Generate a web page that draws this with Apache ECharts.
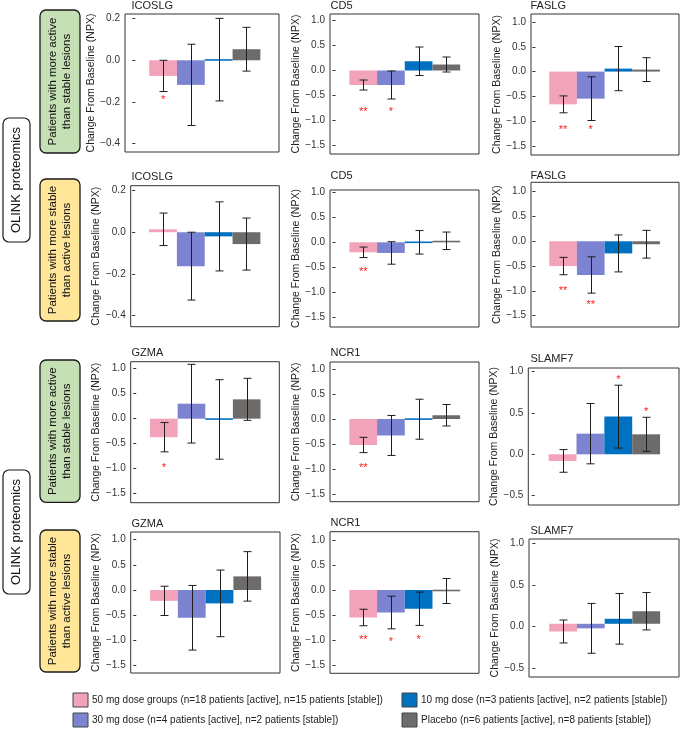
<!DOCTYPE html>
<html><head><meta charset="utf-8">
<script src="https://cdn.jsdelivr.net/npm/echarts@6/dist/echarts.min.js"></script>
<style>html,body{margin:0;padding:0;background:#fff}#c{width:681px;height:734px}</style>
</head><body><div id="c"></div>
<script>
// ---------------- DATA ----------------
const groups = ['50 mg dose groups', '30 mg dose', '10 mg dose', 'Placebo'];
const legendLabels = [
  '50 mg dose groups (n=18 patients [active], n=15 patients [stable])',
  '30 mg dose (n=4 patients [active], n=2 patients [stable])',
  '10 mg dose (n=3 patients [active], n=2 patients [stable])',
  'Placebo (n=6 patients [active], n=8 patients [stable])'
];
const proteinTitles = ['ICOSLG','CD5','FASLG','ICOSLG','CD5','FASLG','GZMA','NCR1','SLAMF7','GZMA','NCR1','SLAMF7'];
const yAxisName = 'Change From Baseline (NPX)';
const sideLabel = 'OLINK proteomics';
const activeLabel = 'Patients with more active\nthan stable lesions';
const stableLabel = 'Patients with more stable\nthan active lesions';

// tick labels
const ticksICOSLG = [-0.4, -0.2, 0, 0.2];
const ticksWide = [-1.5, -1, -0.5, 0, 0.5, 1];
const ticksSLAMF7 = [-0.5, 0, 0.5, 1];

// means (order: 50 mg, 30 mg, 10 mg, placebo) and error half-widths
const meanICOSLG_A = [-0.075, -0.118, 0.003, 0.053];
const errICOSLG_A  = [0.075, 0.195, 0.198, 0.105];
const meanCD5_A    = [-0.29, -0.29, 0.185, 0.12];
const errCD5_A     = [0.10, 0.28, 0.285, 0.15];
const meanFASLG_A  = [-0.66, -0.545, 0.06, 0.04];
const errFASLG_A   = [0.17, 0.44, 0.445, 0.24];
const meanICOSLG_S = [0.014, -0.163, -0.02, -0.057];
const errICOSLG_S  = [0.078, 0.163, 0.166, 0.125];
const meanCD5_S    = [-0.20, -0.213, 0.0, 0.03];
const errCD5_S     = [0.105, 0.225, 0.235, 0.175];
const meanFASLG_S  = [-0.50, -0.68, -0.245, -0.06];
const errFASLG_S   = [0.175, 0.367, 0.373, 0.28];
const meanGZMA_A   = [-0.37, 0.30, -0.015, 0.387];
const errGZMA_A    = [0.293, 0.787, 0.795, 0.42];
const meanNCR1_A   = [-0.52, -0.33, -0.005, 0.075];
const errNCR1_A    = [0.153, 0.40, 0.40, 0.215];
const meanSLAMF7_A = [-0.08, 0.25, 0.456, 0.242];
const errSLAMF7_A  = [0.137, 0.365, 0.38, 0.206];
const meanGZMA_S   = [-0.215, -0.55, -0.265, 0.27];
const errGZMA_S    = [0.29, 0.64, 0.66, 0.49];
const meanNCR1_S   = [-0.55, -0.45, -0.375, -0.02];
const errNCR1_S    = [0.165, 0.327, 0.333, 0.25];
const meanSLAMF7_S = [-0.058, -0.02, 0.095, 0.186];
const errSLAMF7_S  = [0.138, 0.30, 0.305, 0.225];
const barBaseSLAMF7_S = 0.035;

// significance markers and their heights
const sigICOSLG_A = ['*', '', '', ''];     const sigYICOSLG_A = [-0.18, 0, 0, 0];
const sigCD5_A    = ['**', '*', '', ''];   const sigYCD5_A    = [-0.77, -0.77, 0, 0];
const sigFASLG_A  = ['**', '*', '', ''];   const sigYFASLG_A  = [-1.13, -1.13, 0, 0];
const sigCD5_S    = ['**', '', '', ''];    const sigYCD5_S    = [-0.54, 0, 0, 0];
const sigFASLG_S  = ['**', '**', '', ''];  const sigYFASLG_S  = [-0.95, -1.23, 0, 0];
const sigGZMA_A   = ['*', '', '', ''];     const sigYGZMA_A   = [-0.93, 0, 0, 0];
const sigNCR1_A   = ['**', '', '', ''];    const sigYNCR1_A   = [-0.93, 0, 0, 0];
const sigSLAMF7_A = ['', '', '*', '*'];    const sigYSLAMF7_A = [0, 0, 0.93, 0.54];
const sigNCR1_S   = ['**', '*', '*', ''];  const sigYNCR1_S   = [-0.95, -0.99, -0.95, 0];
const sigNone     = ['', '', '', ''];      const sigYNone     = [0, 0, 0, 0];

// ---------------- PANELS ----------------
const panels = [
  {mean: meanICOSLG_A, err: errICOSLG_A, sig: sigICOSLG_A, sigY: sigYICOSLG_A, ticks: ticksICOSLG, yMin: -0.44, yMax: 0.222, base: 0},
  {mean: meanCD5_A, err: errCD5_A, sig: sigCD5_A, sigY: sigYCD5_A, ticks: ticksWide, yMin: -1.67, yMax: 1.13, base: 0},
  {mean: meanFASLG_A, err: errFASLG_A, sig: sigFASLG_A, sigY: sigYFASLG_A, ticks: ticksWide, yMin: -1.68, yMax: 1.16, base: 0},
  {mean: meanICOSLG_S, err: errICOSLG_S, sig: sigNone, sigY: sigYNone, ticks: ticksICOSLG, yMin: -0.454, yMax: 0.2235, base: 0},
  {mean: meanCD5_S, err: errCD5_S, sig: sigCD5_S, sigY: sigYCD5_S, ticks: ticksWide, yMin: -1.694, yMax: 1.046, base: 0},
  {mean: meanFASLG_S, err: errFASLG_S, sig: sigFASLG_S, sigY: sigYFASLG_S, ticks: ticksWide, yMin: -1.73, yMax: 1.19, base: 0},
  {mean: meanGZMA_A, err: errGZMA_A, sig: sigGZMA_A, sigY: sigYGZMA_A, ticks: ticksWide, yMin: -1.68, yMax: 1.14, base: 0},
  {mean: meanNCR1_A, err: errNCR1_A, sig: sigNCR1_A, sigY: sigYNCR1_A, ticks: ticksWide, yMin: -1.655, yMax: 1.14, base: 0},
  {mean: meanSLAMF7_A, err: errSLAMF7_A, sig: sigSLAMF7_A, sigY: sigYSLAMF7_A, ticks: ticksSLAMF7, yMin: -0.613, yMax: 1.044, base: 0},
  {mean: meanGZMA_S, err: errGZMA_S, sig: sigNone, sigY: sigYNone, ticks: ticksWide, yMin: -1.644, yMax: 1.149, base: 0},
  {mean: meanNCR1_S, err: errNCR1_S, sig: sigNCR1_S, sigY: sigYNCR1_S, ticks: ticksWide, yMin: -1.666, yMax: 1.166, base: 0},
  {mean: meanSLAMF7_S, err: errSLAMF7_S, sig: sigNone, sigY: sigYNone, ticks: ticksSLAMF7, yMin: -0.606, yMax: 1.056, base: barBaseSLAMF7_S}
];

// ---------------- LAYOUT / STYLE ----------------
// [left, top, width, height, nameGap, xMin, xMax, titleLeft, titleTop]
const layout = [
  [125, 14, 154, 138, 21, -0.37, 5.17, 131.5, 0.5],
  [330, 14, 149, 140, 27, -0.2, 5.18, 330.5, 0.5],
  [531, 14, 148, 141, 28, -0.16, 5.19, 530.5, 0.5],
  [130.7, 185.7, 148.6, 141, 27, -0.16, 5.18, 131.5, 171],
  [330, 190, 149, 137, 27, -0.2, 5.18, 330.5, 170],
  [531, 182.3, 148, 144.7, 28, -0.16, 5.19, 530.5, 170],
  [130.7, 361.7, 148.6, 141, 27, -0.2, 5.18, 131.5, 347.5],
  [330, 362, 149, 139.7, 27, -0.2, 5.18, 330.5, 347.5],
  [528.3, 368, 150.7, 137, 28, -0.23, 5.18, 530.5, 353.5],
  [130.7, 532, 149.3, 141, 27, -0.2, 5.18, 131.5, 518.5],
  [330, 531.7, 149, 141.6, 27, -0.2, 5.18, 330.5, 517],
  [529, 539, 150, 138, 28, -0.23, 5.18, 530.5, 525]
];
const FONT = '"Liberation Sans", Arial, Helvetica, sans-serif';
const colors = ['#F2A2B9', '#7C84D2', '#0070C0', '#6E6B6B'];
const errColor = '#1e1e1e';

function fmt(v) {
  const s = Math.abs(v).toFixed(1);
  return (v < -1e-9 ? '\u2212' : '') + s;
}

function renderBar(params, api) {
  const x = api.value(0), base = api.value(1), v = api.value(2), e = api.value(3), ci = api.value(4);
  const p0 = api.coord([x - 0.5, base]);
  const p1 = api.coord([x + 0.5, v]);
  let top = Math.min(p0[1], p1[1]);
  let h = Math.abs(p1[1] - p0[1]);
  if (h < 1.6) { top = (p0[1] + p1[1]) / 2 - 0.8; h = 1.6; }
  const pt = api.coord([x, v + e]);
  const pb = api.coord([x, v - e]);
  const cx = Math.round(pt[0]) + 0.5;
  const cap = 4;
  const ls = {stroke: errColor, lineWidth: 1};
  return {
    type: 'group',
    children: [
      {type: 'rect', shape: {x: p0[0], y: top, width: p1[0] - p0[0], height: h}, style: {fill: colors[ci]}},
      {type: 'line', shape: {x1: cx, y1: pt[1], x2: cx, y2: pb[1]}, style: ls},
      {type: 'line', shape: {x1: cx - cap, y1: pt[1], x2: cx + cap, y2: pt[1]}, style: ls},
      {type: 'line', shape: {x1: cx - cap, y1: pb[1], x2: cx + cap, y2: pb[1]}, style: ls}
    ]
  };
}

function makeSigRender(p) {
  return function (params, api) {
    const c = api.coord([api.value(0), api.value(1)]);
    return {type: 'text', style: {text: p.sig[api.value(2)], x: c[0], y: c[1] + 2.5, fill: '#ff1a1a',
      fontSize: 11, fontFamily: FONT, align: 'center', verticalAlign: 'middle'}};
  };
}

const grids = [], xAxes = [], yAxes = [], series = [], titles = [];
panels.forEach((p, i) => {
  const L = layout[i];
  grids.push({left: L[0], top: L[1], width: L[2], height: L[3], show: true, borderColor: '#333', borderWidth: 1, backgroundColor: 'transparent'});
  xAxes.push({gridIndex: i, type: 'value', min: L[5], max: L[6], show: false});
  yAxes.push({
    gridIndex: i, type: 'value', min: p.yMin, max: p.yMax,
    axisLine: {show: false}, splitLine: {show: false},
    axisTick: {show: true, length: 3, customValues: p.ticks, lineStyle: {color: '#333'}},
    axisLabel: {customValues: p.ticks, formatter: fmt, fontSize: 10, color: '#333', margin: 5, fontFamily: FONT},
    name: yAxisName, nameLocation: 'middle', nameGap: L[4],
    nameTextStyle: {fontSize: 10.5, color: '#222', fontFamily: FONT}
  });
  titles.push({text: proteinTitles[i], left: L[7], top: L[8], padding: 0,
    textStyle: {fontSize: 11, fontWeight: 'normal', color: '#222', fontFamily: FONT}});
  series.push({
    type: 'custom', xAxisIndex: i, yAxisIndex: i, silent: true, clip: false,
    data: p.mean.map((m, k) => [k + 1, p.base, m, p.err[k], k]),
    encode: {x: 0, y: [1, 2]}, renderItem: renderBar, z: 2
  });
  const sd = [];
  p.sig.forEach((s, k) => { if (s) sd.push([k + 1, p.sigY[k], k]); });
  if (sd.length) {
    series.push({type: 'custom', xAxisIndex: i, yAxisIndex: i, silent: true, clip: false,
      data: sd, encode: {x: 0, y: 1}, renderItem: makeSigRender(p), z: 3});
  }
});

// side labels & legend (graphic)
const graphic = [];
function sideBox(x, y, w, h, fill, text, fs, lw) {
  graphic.push({type: 'rect', shape: {x: x, y: y, width: w, height: h, r: 6},
    style: {fill: fill, stroke: '#1a1a1a', lineWidth: lw}, z: 10});
  graphic.push({type: 'text', x: x + w / 2, y: y + h / 2, rotation: Math.PI / 2,
    style: {text: text, fontSize: fs, fontFamily: FONT, fill: '#111', align: 'center', verticalAlign: 'middle', lineHeight: 13.5}, z: 11});
}
sideBox(3, 118, 27, 124, '#ffffff', sideLabel, 13, 1.2);
sideBox(3, 470, 27, 124, '#ffffff', sideLabel, 13, 1.2);
sideBox(40, 10, 40, 143, '#C5E0B4', activeLabel, 11.5, 1.3);
sideBox(40, 179, 40, 142, '#FFE699', stableLabel, 11.5, 1.3);
sideBox(40, 360, 40, 142.3, '#C5E0B4', activeLabel, 11.5, 1.3);
sideBox(40, 530, 40, 142, '#FFE699', stableLabel, 11.5, 1.3);

// legend: [boxX, boxY] per group
const legPos = [[73, 693], [73, 713], [402, 693], [402, 713]];
groups.forEach((g, k) => {
  const P = legPos[k];
  graphic.push({type: 'rect', shape: {x: P[0], y: P[1], width: 15, height: 14},
    style: {fill: colors[k], stroke: '#444', lineWidth: 1}, z: 10});
  graphic.push({type: 'text', x: P[0] + 19, y: P[1] + 7,
    style: {text: legendLabels[k], fontSize: 10, fontFamily: FONT, fill: '#222', align: 'left', verticalAlign: 'middle'}, z: 10});
});

const chart = echarts.init(document.getElementById('c'), null, {renderer: 'canvas'});
chart.setOption({
  animation: false,
  backgroundColor: '#ffffff',
  title: titles,
  grid: grids,
  xAxis: xAxes,
  yAxis: yAxes,
  series: series,
  graphic: graphic
});
</script>
</body></html>
